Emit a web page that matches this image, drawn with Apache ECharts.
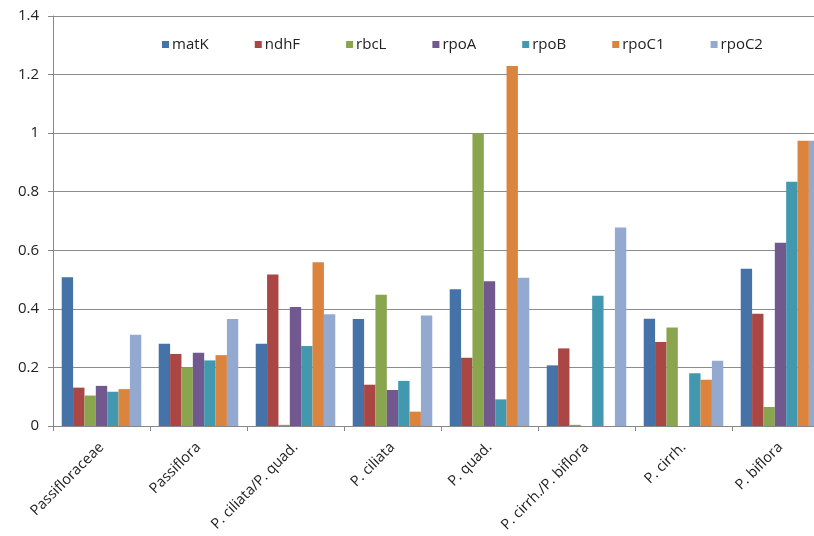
<!DOCTYPE html>
<html>
<head>
<meta charset="utf-8">
<script src="https://cdn.jsdelivr.net/npm/echarts@6/dist/echarts.min.js"></script>
<style>
  html, body { margin: 0; padding: 0; background: #fff; overflow: hidden; }
  /* wider than the window so the last bars get cut off at the right edge */
  #chart { width: 830px; height: 536px; }
</style>
</head>
<body>
<div id="chart"></div>
<script>
// categories and gene series
const categories = ['Passifloraceae', 'Passiflora', 'P. ciliata/P. quad.', 'P. ciliata',
  'P. quad.', 'P. cirrh./P. biflora', 'P. cirrh.', 'P. biflora'];

const matK  = [0.508, 0.281, 0.281, 0.365, 0.467, 0.207, 0.366, 0.537];
const ndhF  = [0.131, 0.246, 0.517, 0.141, 0.233, 0.265, 0.287, 0.383];
const rbcL  = [0.104, 0.199, 0.004, 0.448, 0.999, 0.004, 0.336, 0.065];
const rpoA  = [0.137, 0.250, 0.406, 0.123, 0.494, 0, 0, 0.626];
const rpoB  = [0.117, 0.224, 0.273, 0.154, 0.091, 0.445, 0.180, 0.834];
const rpoC1 = [0.126, 0.242, 0.559, 0.049, 1.229, 0, 0.158, 0.974];
const rpoC2 = [0.312, 0.365, 0.382, 0.377, 0.506, 0.678, 0.223, 0.974];

const yTicks = [0, 0.2, 0.4, 0.6, 0.8, 1, 1.2, 1.4];

const names = ['matK', 'ndhF', 'rbcL', 'rpoA', 'rpoB', 'rpoC1', 'rpoC2'];
const values = [matK, ndhF, rbcL, rpoA, rpoB, rpoC1, rpoC2];
const colors = ['#4572A7', '#AA4643', '#89A54E', '#71588F', '#4198AF', '#DB843D', '#93A9CF'];

const font = '"Open Sans", "Liberation Sans", sans-serif';

let chart = echarts.init(document.getElementById('chart'));
let option = {
    animation: false,
    color: colors,
    legend: {
        data: names,
        left: 157,
        top: 32,
        icon: 'rect',
        itemWidth: 7,
        itemHeight: 7,
        itemGap: 46,
        textStyle: { fontFamily: font, fontSize: 15, color: '#222', padding: [10, 0, 0, -2] }
    },
    grid: { left: 53, right: 1, top: 16, bottom: 110, containLabel: false },
    xAxis: {
        type: 'category',
        data: categories,
        axisLine: { lineStyle: { color: '#888', width: 1 } },
        axisTick: { show: true, length: 5, lineStyle: { color: '#888' } },
        axisLabel: { rotate: 45, fontFamily: font, fontSize: 14.5, color: '#222', margin: 19, interval: 0 }
    },
    yAxis: {
        type: 'value',
        min: yTicks[0],
        max: yTicks[yTicks.length - 1],
        interval: 0.2,
        axisLine: { show: true, lineStyle: { color: '#888' } },
        axisTick: { show: true, length: 5, lineStyle: { color: '#888' } },
        axisLabel: {
            fontFamily: font, fontSize: 15, color: '#222', margin: 14,
            formatter: v => String(Math.round(v * 10) / 10)
        },
        splitLine: { lineStyle: { color: '#8c8c8c', width: 1 } }
    },
    series: names.map((n, i) => ({
        name: n,
        type: 'bar',
        data: values[i],
        barGap: '0%',
        barCategoryGap: '18%'
    }))
};
chart.setOption(option);
</script>
</body>
</html>
